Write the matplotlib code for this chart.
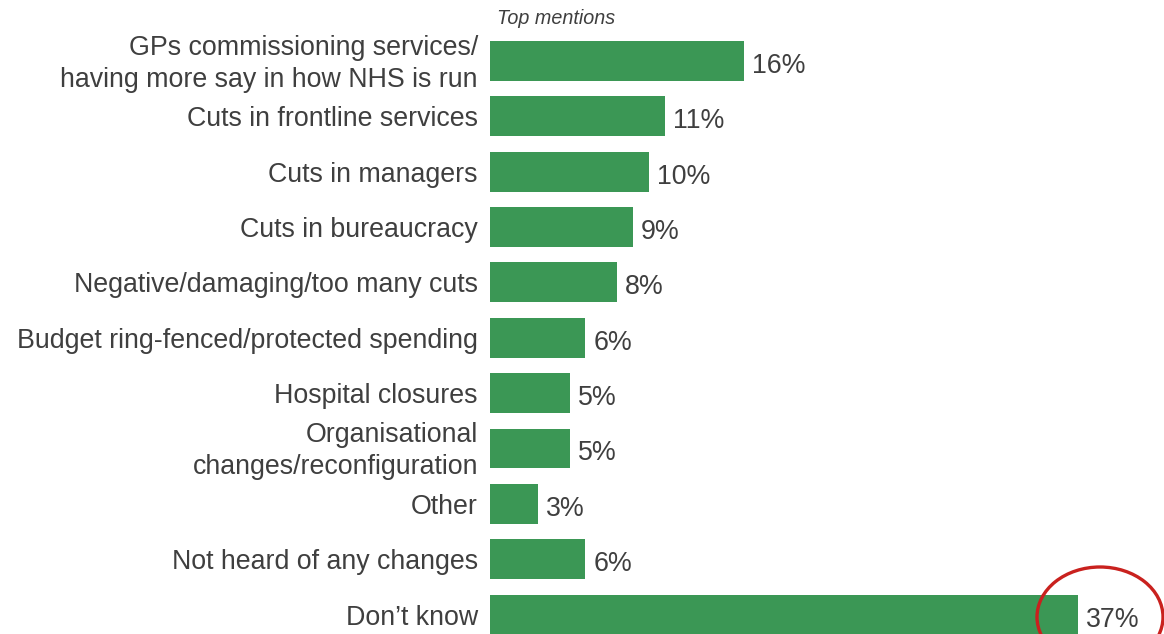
import matplotlib
matplotlib.use("Agg")
import matplotlib.pyplot as plt
from matplotlib.patches import Ellipse
import matplotlib.transforms as mtransforms

categories = [
    "GPs commissioning services/\nhaving more say in how NHS is run",
    "Cuts in frontline services",
    "Cuts in managers",
    "Cuts in bureaucracy",
    "Negative/damaging/too many cuts",
    "Budget ring-fenced/protected spending",
    "Hospital closures",
    "Organisational\nchanges/reconfiguration",
    "Other",
    "Not heard of any changes",
    "Don\u2019t know",
]
values = [16, 11, 10, 9, 8, 6, 5, 5, 3, 6, 37]
value_labels = [f"{v}%" for v in values]

GREEN = "#3b9755"
TEXT = "#3f3f3f"
RED = "#c9211e"

plt.rcParams["font.family"] = ["Liberation Sans", "DejaVu Sans"]

W, H = 1164, 634
fig = plt.figure(figsize=(W / 100, H / 100), dpi=100)
ax = fig.add_axes([490 / W, 0, 1 - 490 / W, 1])

pos = list(range(len(categories)))
ax.barh(pos, values, height=0.72, color=GREEN, edgecolor="none")

ax.set_xlim(0, (W - 490) / 15.9)
ax.set_ylim(10.352, -1.102)
ax.axis("off")

# Category labels to the left of the bars
label_tr = mtransforms.offset_copy(ax.transData, fig=fig, x=-12, y=-3, units="dots")
for p, c in zip(pos, categories):
    ax.text(0, p, c, transform=label_tr, ha="right", va="center",
            fontsize=19.3, color=TEXT, linespacing=1.3)

# Value labels at the bar ends
val_tr = mtransforms.offset_copy(ax.transData, fig=fig, x=8, y=-5, units="dots")
for p, v, t in zip(pos, values, value_labels):
    ax.text(v, p, t, transform=val_tr, ha="left", va="center",
            fontsize=19.3, color=TEXT)

fig.text(497 / W, 1 - 18 / H, "Top mentions", ha="left", va="center",
         fontsize=14.2, style="italic", color=TEXT)

# Highlight around the largest answer
ell = Ellipse((11.00, 0.17), 1.26, 1.0, transform=fig.dpi_scale_trans,
              fill=False, edgecolor=RED, linewidth=2.4, clip_on=False)
fig.add_artist(ell)

fig.savefig("out.png", dpi=100)
